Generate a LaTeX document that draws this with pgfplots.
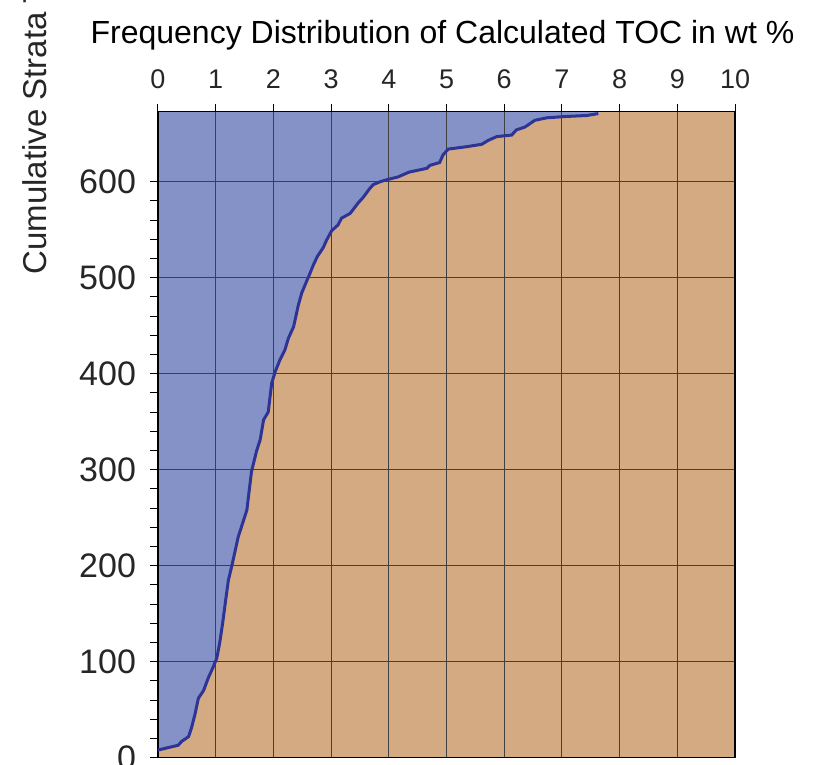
\documentclass[border=0pt]{standalone}
\usepackage{pgfplots}
\pgfplotsset{compat=1.18}
\usepackage{fontspec}
\setmainfont{Liberation Sans}

\definecolor{fillblue}{RGB}{133,146,200}
\definecolor{filltan}{RGB}{212,170,130}
\definecolor{curveblue}{RGB}{46,52,150}

% cumulative curve: TOC (wt %) vs cumulative count
\pgfplotstableread{
x y
0.00 8
0.35 13
0.41 17
0.53 22
0.58 31
0.64 45
0.70 62
0.79 70
0.87 83
0.96 95
1.02 104
1.07 120
1.12 140
1.17 163
1.22 185
1.28 200
1.39 230
1.54 258
1.62 298
1.71 320
1.77 331
1.83 352
1.91 360
1.97 390
2.03 402
2.11 414
2.20 425
2.26 437
2.35 449
2.43 471
2.49 484
2.58 497
2.63 504
2.69 513
2.76 522
2.86 531
2.92 539
3.01 549
3.12 555
3.18 562
3.33 567
3.47 578
3.56 584
3.67 593
3.73 597
3.85 600
3.96 602
4.16 605
4.35 610
4.66 614
4.71 617
4.88 620
4.94 628
5.03 634
5.35 636.5
5.61 639
5.72 643
5.87 647
6.13 648.6
6.21 654
6.36 657
6.53 664
6.74 666.6
7.08 668
7.43 669
7.63 671
}\curve

\begin{document}
\begin{tikzpicture}
\begin{axis}[
    scale only axis,
    width=288.5pt, height=323pt,
    xmin=0, xmax=10, ymin=0, ymax=673,
    set layers, axis on top,
    axis background/.style={fill=fillblue},
    xtick={0,1,...,10},
    ytick={0,100,...,600},
    minor y tick num=4,
    xtick pos=right, xticklabel pos=right,
    ytick pos=left,
    tick align=outside,
    major tick length=4pt, minor tick length=4pt,
    tick style={black, line width=0.5pt},
    grid=major,
    major grid style={black!75, line width=0.5pt},
    axis line style={black, line width=0.6pt},
    /pgf/number format/assume math mode=true,
    xticklabel style={font=\fontsize{13.5}{16}\selectfont, text=black!85, yshift=4pt},
    yticklabel style={font=\fontsize{17}{20}\selectfont, text=black!85, xshift=-3.5pt},
    clip=false
]
    \addplot[fill=filltan, draw=none] coordinates {
        (0,0) (0,8) (0.35,13) (0.41,17) (0.53,22) (0.58,31) (0.64,45) (0.70,62)
        (0.79,70) (0.87,83) (0.96,95) (1.02,104) (1.07,120) (1.12,140) (1.17,163)
        (1.22,185) (1.28,200) (1.39,230) (1.54,258) (1.62,298) (1.71,320) (1.77,331)
        (1.83,352) (1.91,360) (1.97,390) (2.03,402) (2.11,414) (2.20,425) (2.26,437)
        (2.35,449) (2.43,471) (2.49,484) (2.58,497) (2.63,504) (2.69,513) (2.76,522)
        (2.86,531) (2.92,539) (3.01,549) (3.12,555) (3.18,562) (3.33,567) (3.47,578)
        (3.56,584) (3.67,593) (3.73,597) (3.85,600) (3.96,602) (4.16,605) (4.35,610)
        (4.66,614) (4.71,617) (4.88,620) (4.94,628) (5.03,634) (5.35,636.5) (5.61,639)
        (5.72,643) (5.87,647) (6.13,648.6) (6.21,654) (6.36,657) (6.53,664) (6.74,666.6)
        (7.08,668) (7.43,669) (7.63,671) (7.63,673) (10,673) (10,0)
    } -- cycle;
    \addplot[curveblue, line width=1.5pt, on layer=axis foreground] table {\curve};

    \node[anchor=base, font=\fontsize{16}{19}\selectfont]
        at (axis cs:4.93,744.5) {Frequency Distribution of Calculated TOC in wt \%};
    \node[anchor=base west, rotate=90, inner sep=0pt, font=\fontsize{16.5}{19}\selectfont, text=black!85]
        at (axis cs:-1.924,502.8) {Cumulative Strata Thickness};

    \coordinate (ll) at (axis cs:-2.738,-6.56);
    \coordinate (ur) at (axis cs:11.42,789.3);
\end{axis}
\pgfresetboundingbox
\useasboundingbox (ll) rectangle (ur);
\end{tikzpicture}
\end{document}
